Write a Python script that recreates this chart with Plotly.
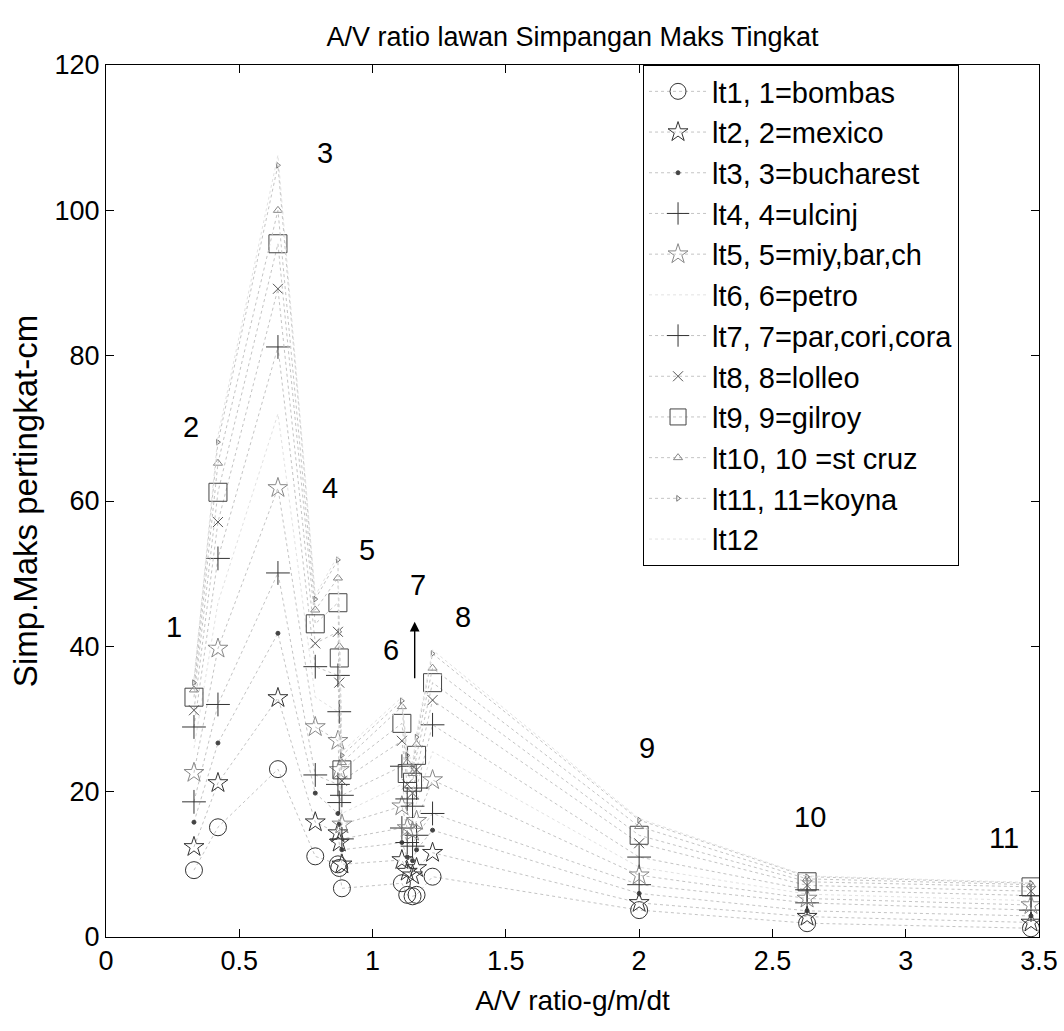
import plotly.graph_objects as go

# A/V ratio of each record (x positions) in order
av_ratio = [0.33, 0.42, 0.645, 0.785, 0.87, 0.875, 0.885, 1.11, 1.13, 1.15, 1.165, 1.225, 2.0, 2.63, 3.47]

# Max storey drift (cm) for each storey level lt1..lt12
lt1 = [9.2, 15.1, 23.1, 11.1, 10.0, 9.5, 6.7, 7.4, 5.8, 5.6, 5.8, 8.3, 3.7, 1.9, 1.2]
lt2 = [12.4, 21.2, 32.9, 15.8, 14.3, 13.0, 10.0, 10.6, 9.0, 8.5, 9.5, 11.6, 4.7, 2.8, 2.0]
lt3 = [15.8, 26.7, 41.8, 19.8, 17.0, 15.5, 12.0, 13.0, 11.0, 10.5, 12.0, 14.7, 6.0, 3.6, 2.9]
lt4 = [18.6, 32.0, 50.1, 22.3, 21.0, 18.5, 13.5, 15.0, 13.0, 12.5, 14.0, 17.0, 7.2, 4.7, 3.7]
lt5 = [22.6, 39.7, 61.8, 28.9, 27.0, 23.0, 15.5, 18.0, 15.0, 14.5, 16.0, 21.6, 8.5, 5.3, 4.4]
lt6 = [26.0, 46.0, 72.0, 33.0, 31.0, 27.0, 17.0, 21.0, 17.0, 16.0, 18.5, 25.5, 9.6, 5.9, 5.0]
lt7 = [28.9, 52.1, 81.2, 37.2, 36.0, 31.0, 19.5, 23.5, 19.0, 18.0, 20.5, 29.2, 11.0, 6.5, 5.7]
lt8 = [31.2, 57.1, 89.2, 40.4, 42.0, 35.0, 21.5, 27.0, 21.0, 19.8, 23.0, 32.6, 12.9, 7.1, 6.3]
lt9 = [33.0, 61.2, 95.4, 43.1, 46.0, 38.4, 23.0, 29.4, 22.5, 21.3, 25.0, 35.0, 14.0, 7.6, 6.9]
lt10 = [34.0, 65.2, 100.0, 45.0, 49.4, 40.0, 24.0, 31.7, 24.0, 22.5, 26.5, 37.0, 15.2, 8.0, 7.2]
lt11 = [35.0, 68.1, 106.2, 46.5, 51.9, 42.0, 25.0, 32.5, 25.0, 23.5, 27.5, 39.0, 16.1, 8.3, 7.4]
lt12 = [35.5, 69.0, 107.6, 47.0, 52.5, 43.0, 25.5, 33.0, 25.5, 24.0, 28.0, 39.5, 16.3, 8.4, 7.5]

legend_names = ["lt1, 1=bombas", "lt2, 2=mexico", "lt3, 3=bucharest", "lt4, 4=ulcinj",
                "lt5, 5=miy,bar,ch", "lt6, 6=petro", "lt7, 7=par,cori,cora", "lt8, 8=lolleo",
                "lt9, 9=gilroy", "lt10, 10 =st cruz", "lt11, 11=koyna", "lt12"]

# earthquake number labels
label_text = ["1", "2", "3", "4", "5", "6", "7", "8", "9", "10", "11"]
label_x = [0.255, 0.32, 0.82, 0.84, 0.98, 1.07, 1.17, 1.34, 2.03, 2.64, 3.37]
label_y = [42.7, 70.2, 107.9, 61.8, 53.3, 39.5, 48.4, 44.0, 26.0, 16.5, 13.6]

FONT = "Liberation Sans, Arial"

series = [lt1, lt2, lt3, lt4, lt5, lt6, lt7, lt8, lt9, lt10, lt11, lt12]
styles = [
    dict(symbol="circle-open", size=17, color="#333333"),
    dict(symbol="star-open", size=15, color="#333333"),
    dict(symbol="circle", size=4, color="#444444"),
    dict(symbol="cross-thin-open", size=17, color="#333333"),
    dict(symbol="star-open", size=15, color="#888888"),
    None,
    dict(symbol="cross-thin-open", size=17, color="#333333"),
    dict(symbol="x-thin-open", size=10, color="#555555"),
    dict(symbol="square-open", size=18, color="#444444"),
    dict(symbol="triangle-up-open", size=8, color="#888888"),
    dict(symbol="triangle-right-open", size=5, color="#777777"),
    None,
]

fig = go.Figure()
for i, (vals, st) in enumerate(zip(series, styles)):
    if st is None:
        fig.add_trace(go.Scatter(
            x=av_ratio, y=vals, mode="lines", name=legend_names[i],
            legendgroup=f"g{i}",
            line=dict(color="#e2e2e2", width=1, dash="dot")))
    else:
        fig.add_trace(go.Scatter(
            x=av_ratio, y=vals, mode="lines+markers", name=legend_names[i],
            legendgroup=f"g{i}",
            line=dict(color="#c4c4c4", width=1, dash="dot"),
            marker=dict(symbol=st["symbol"], size=st["size"], color=st["color"],
                        line=dict(color=st["color"], width=1))))

for t, x, y in zip(label_text, label_x, label_y):
    fig.add_annotation(x=x, y=y, text=t, showarrow=False,
                       font=dict(family=FONT, size=29, color="black"))

# arrow near record 7
fig.add_annotation(x=1.158, y=43.4, ax=1.158, ay=35.4, axref="x", ayref="y",
                   xref="x", yref="y", text="", showarrow=True,
                   arrowhead=2, arrowsize=1.4, arrowwidth=1.4, arrowcolor="black")

axis_common = dict(showgrid=False, zeroline=False, showline=True, linecolor="black",
                   linewidth=1, mirror="ticks", ticks="inside", ticklen=8,
                   tickcolor="black", automargin=False,
                   tickfont=dict(family=FONT, size=27, color="black"))

fig.update_layout(
    template="none",
    width=1064, height=1031,
    paper_bgcolor="white", plot_bgcolor="white",
    margin=dict(l=106, r=25, t=65, b=94, autoexpand=False),
    title=dict(text="A/V ratio lawan Simpangan Maks Tingkat", x=0.5, xref="paper",
               y=1 - 37 / 1031, yanchor="middle", xanchor="center",
               font=dict(family=FONT, size=27, color="black")),
    xaxis=dict(range=[0, 3.5], tickvals=[0, 0.5, 1, 1.5, 2, 2.5, 3, 3.5],
               ticktext=["0", "0.5", "1", "1.5", "2", "2.5", "3", "3.5"],
               title=dict(text="A/V ratio-g/m/dt", standoff=14,
                          font=dict(family=FONT, size=28, color="black")),
               **axis_common),
    yaxis=dict(range=[0, 120], tickvals=[0, 20, 40, 60, 80, 100, 120],
               title=dict(text="Simp.Maks pertingkat-cm", standoff=6,
                          font=dict(family=FONT, size=33, color="black")),
               **axis_common),
    showlegend=True,
    legend=dict(x=0.5756, y=1.0, xanchor="left", yanchor="top",
                bgcolor="white", bordercolor="black", borderwidth=1,
                font=dict(family=FONT, size=29, color="black"),
                traceorder="grouped", tracegroupgap=0, itemwidth=58,
                entrywidth=268, entrywidthmode="pixels"),
)

fig.write_html("out.html", config={"displayModeBar": False},
               post_script="document.body.style.margin='0px';")
